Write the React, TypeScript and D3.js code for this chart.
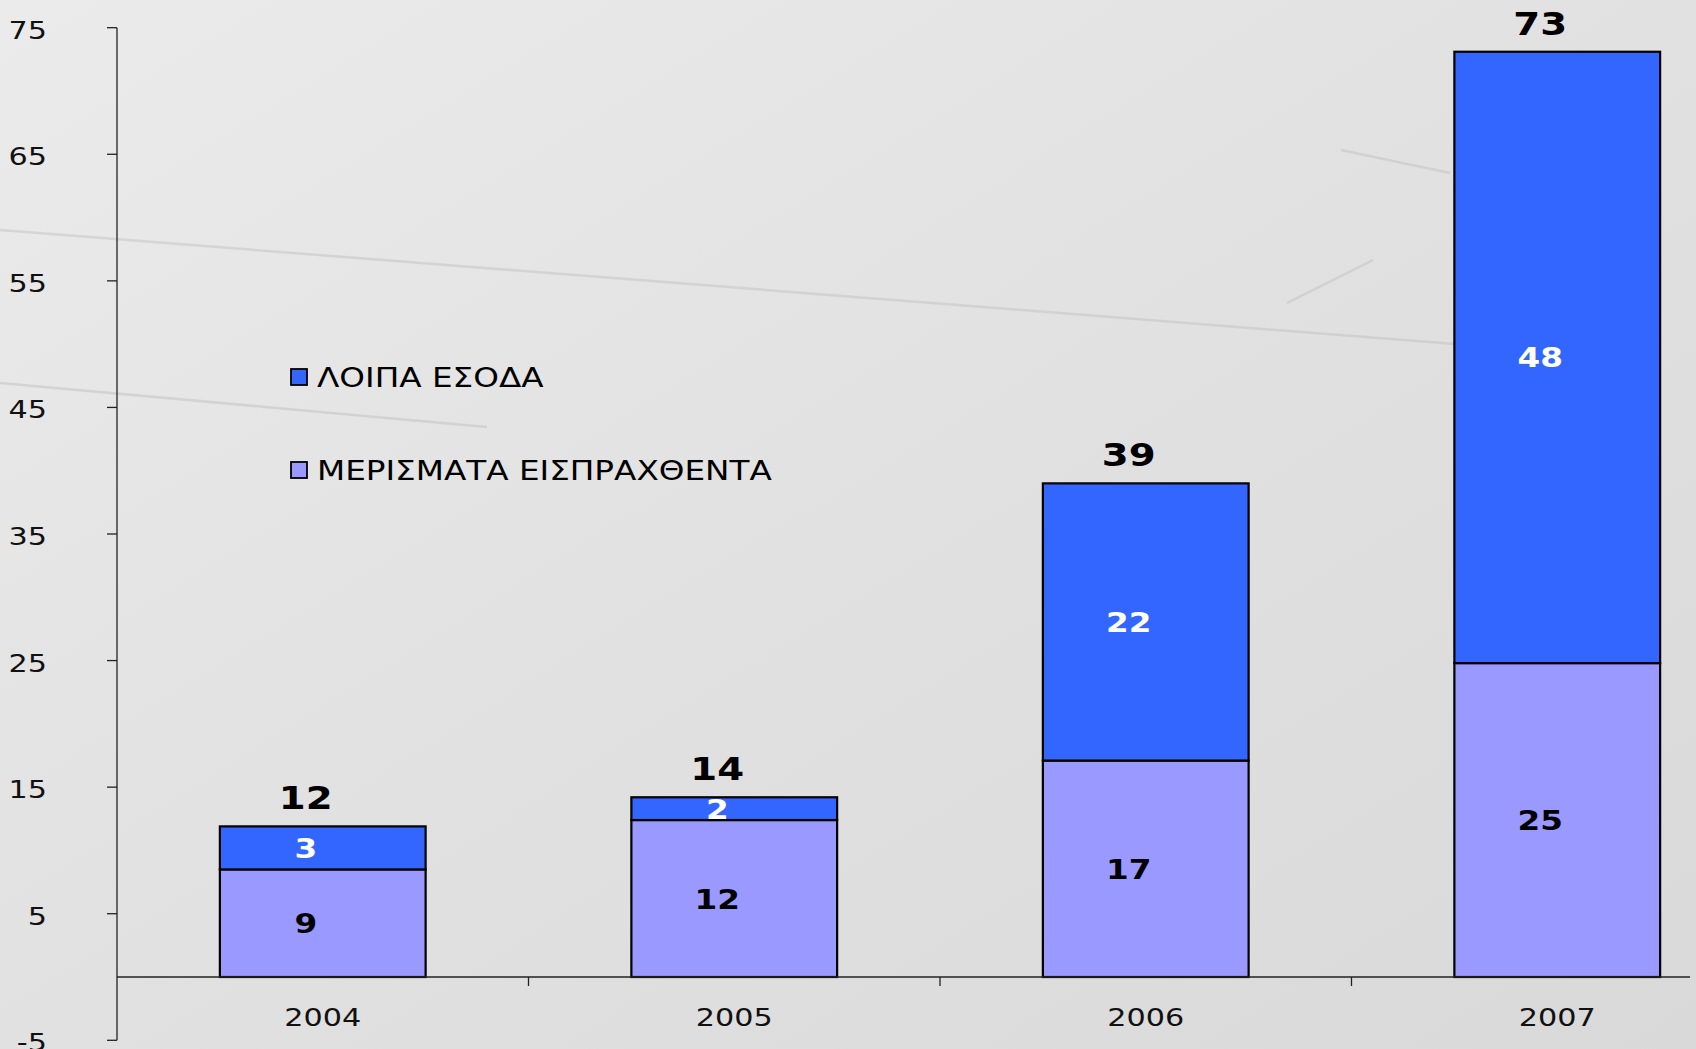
import React, { useEffect } from "react";
import * as d3 from "d3";

// ---- data ----
const years = ["2004", "2005", "2006", "2007"];
const dividends = [8.5, 12.4, 17.1, 24.8]; // ΜΕΡΙΣΜΑΤΑ ΕΙΣΠΡΑΧΘΕΝΤΑ
const otherIncome = [3.4, 1.8, 21.9, 48.3]; // ΛΟΙΠΑ ΕΣΟΔΑ
const yTicks = [-5, 5, 15, 25, 35, 45, 55, 65, 75];
const seriesNames = ["ΛΟΙΠΑ ΕΣΟΔΑ", "ΜΕΡΙΣΜΑΤΑ ΕΙΣΠΡΑΧΘΕΝΤΑ"];

const W = 1696;
const H = 1049;
const FONT = "'DejaVu Sans', Verdana, sans-serif";
const DARK = "#3366FF";
const LIGHT = "#9999FF";
const SX = 1.21; // horizontal stretch of the original slide text

type TProps = {
  x: number;
  y: number;
  anchor?: "start" | "middle" | "end";
  size: number;
  bold?: boolean;
  fill?: string;
  children: React.ReactNode;
};

function T({ x, y, anchor = "start", size, bold, fill = "#000", children }: TProps) {
  return (
    <text
      transform={`translate(${x},${y}) scale(${SX},1)`}
      textAnchor={anchor}
      fontSize={size}
      fontWeight={bold ? "bold" : "normal"}
      fill={fill}
    >
      {children}
    </text>
  );
}

export default function App() {
  useEffect(() => {
    document.body.style.margin = "0";
  }, []);

  const x = d3
    .scaleBand<string>()
    .domain(years)
    .range([117, 1763])
    .paddingInner(0.5)
    .paddingOuter(0.25);
  const y = d3.scaleLinear().domain([-5, 75]).range([1040.3, 27.7]);
  const step = x.step();
  const bw = x.bandwidth();

  const rows = years.map((yr, i) => ({
    yr,
    d: dividends[i],
    o: otherIncome[i],
    total: dividends[i] + otherIncome[i],
  }));

  const axisX0 = 117;
  const labelDx = -17;

  return (
    <svg
      width={W}
      height={H}
      style={{ position: "absolute", left: 0, top: 0, display: "block" }}
      fontFamily={FONT}
    >
      <defs>
        <linearGradient id="bg" x1="0" y1="0" x2="1" y2="1">
          <stop offset="0" stopColor="#ebebeb" />
          <stop offset="0.5" stopColor="#e2e1e2" />
          <stop offset="1" stopColor="#d9d9d9" />
        </linearGradient>
      </defs>
      <rect x={0} y={0} width={W} height={H} fill="url(#bg)" />
      {/* faint texture scratches */}
      <g stroke="#c4c4c4" strokeWidth={2.5} opacity={0.55} fill="none">
        <path d="M0,230 L1455,344" />
        <path d="M0,383 L487,427" />
        <path d="M1341,150 L1450,173" />
        <path d="M1373,260 L1287,303" />
      </g>

      {/* y axis */}
      <line x1={axisX0} x2={axisX0} y1={y(75)} y2={y(-5)} stroke="#222" strokeWidth={1.3} />
      {yTicks.map((t) => (
        <g key={t}>
          <line x1={axisX0 - 10} x2={axisX0} y1={y(t)} y2={y(t)} stroke="#222" strokeWidth={1.3} />
          <T x={47} y={y(t) + 11} anchor="end" size={25} fill="#111">
            {t}
          </T>
        </g>
      ))}

      {/* bars */}
      {rows.map((r) => {
        const x0 = x(r.yr)!;
        const cx = x0 + bw / 2;
        return (
          <g key={r.yr}>
            <rect
              x={x0}
              y={y(r.d)}
              width={bw}
              height={y(0) - y(r.d)}
              fill={LIGHT}
              stroke="#000"
              strokeWidth={2.2}
            />
            <rect
              x={x0}
              y={y(r.total)}
              width={bw}
              height={y(r.d) - y(r.total)}
              fill={DARK}
              stroke="#000"
              strokeWidth={2.2}
            />
            <T x={cx + labelDx} y={(y(0) + y(r.d)) / 2 + 10} anchor="middle" size={27} bold>
              {Math.round(r.d)}
            </T>
            <T
              x={cx + labelDx}
              y={(y(r.d) + y(r.total)) / 2 + 10}
              anchor="middle"
              size={27}
              bold
              fill="#fff"
            >
              {Math.round(r.o)}
            </T>
            <T x={cx + labelDx} y={y(r.total) - 17} anchor="middle" size={32} bold>
              {Math.round(r.total)}
            </T>
          </g>
        );
      })}

      {/* x axis */}
      <line x1={axisX0} x2={1690} y1={y(0)} y2={y(0)} stroke="#222" strokeWidth={1.3} />
      {years.slice(1).map((yr) => (
        <line
          key={yr}
          x1={x(yr)! - (step - bw) / 2}
          x2={x(yr)! - (step - bw) / 2}
          y1={y(0)}
          y2={y(0) + 9}
          stroke="#222"
          strokeWidth={1.3}
        />
      ))}
      {years.map((yr) => (
        <T key={yr} x={x(yr)! + bw / 2} y={1026} anchor="middle" size={25} fill="#111">
          {yr}
        </T>
      ))}

      {/* legend */}
      {seriesNames.map((name, i) => {
        const cy = 377 + i * 93;
        return (
          <g key={name}>
            <rect
              x={291}
              y={cy - 8}
              width={16}
              height={16}
              fill={i === 0 ? DARK : LIGHT}
              stroke="#000"
              strokeWidth={1.8}
            />
            <T x={317} y={cy + 10} size={27}>
              {name}
            </T>
          </g>
        );
      })}
    </svg>
  );
}
